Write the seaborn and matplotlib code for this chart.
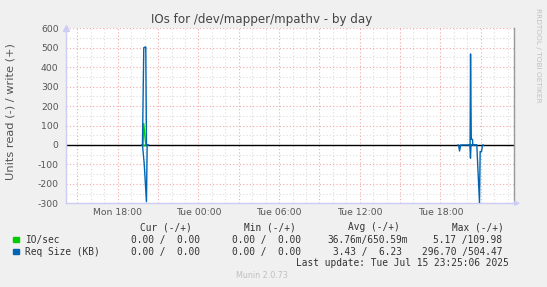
import numpy as np
import pandas as pd
import matplotlib
matplotlib.use("Agg")
import matplotlib.pyplot as plt
from matplotlib.ticker import MultipleLocator, FuncFormatter
import seaborn as sns

# ---------------- data (hours since Mon 18:00) ----------------
x_start, x_end = -3.89, 29.5
tick_hours = [0, 6, 12, 18, 24]
tick_labels = ["Mon 18:00", "Tue 00:00", "Tue 06:00", "Tue 12:00", "Tue 18:00"]

# IO/sec write (+) and read (-)
io_write_t = [1.80, 1.874, 1.933, 2.007, 2.082, 2.15, 26.15, 26.20, 26.245, 26.28, 26.35]
io_write_v = [0.0, 0.0, 109.98, 51.0, 0.0, 0.0, 0.0, 0.0, 5.0, 0.0, 0.0]
io_read_t = [1.85, 1.95, 2.05]
io_read_v = [0.0, -5.17, 0.0]

# Req Size (KB) write (+)
rq_write_t = [1.80, 1.836, 1.933, 2.082, 2.134, 2.30, 26.10, 26.21, 26.245, 26.30, 26.39, 26.41, 26.70]
rq_write_v = [0.0, 0.0, 500.0, 504.47, 0.0, 0.0, 0.0, 0.0, 468.0, 29.0, 29.0, 0.0, 0.0]
# Req Size (KB) read (-)
rq_read_t = [1.80, 1.836, 1.963, 2.134, 2.186, 2.245, 25.30, 25.35, 25.43, 25.51, 25.56,
             26.10, 26.19, 26.24, 26.28, 26.71, 26.91, 26.96, 27.06, 27.14, 27.20]
rq_read_v = [0.0, 0.0, -94.0, -291.0, 0.0, 0.0, 0.0, 0.0, -31.0, 0.0, 0.0,
             0.0, 0.0, -68.0, 0.0, 0.0, -296.70, -34.0, -34.0, 0.0, 0.0]

series_names = ["IO/sec", "Req Size (KB)"]
series_colors = ["#00CC00", "#0066B3"]
header = ["Cur (-/+)", "Min (-/+)", "Avg (-/+)", "Max (-/+)"]
row_io = ["0.00 /  0.00", "0.00 /  0.00", "36.76m/650.59m", "5.17 /109.98"]
row_rq = ["0.00 /  0.00", "0.00 /  0.00", "3.43 /  6.23", "296.70 /504.47"]

# ---------------- figure ----------------
W, H = 547, 287
sns.set_style("white")
plt.rcParams["font.family"] = ["DejaVu Sans"]
fig = plt.figure(figsize=(W / 100, H / 100), dpi=100, facecolor="#F0F0F0")

def fx(x):
    return x / W

def fy(y):
    return 1 - y / H

L, R, T, B = 65.5, 514.3, 28.3, 203.3
ax = fig.add_axes([fx(L), fy(B), fx(R) - fx(L), fy(T) - fy(B)])
ax.set_facecolor("white")
ax.set_xlim(x_start, x_end)
ax.set_ylim(-300, 600)

ax.xaxis.set_major_locator(MultipleLocator(3))
ax.xaxis.set_minor_locator(MultipleLocator(1))
ax.yaxis.set_major_locator(MultipleLocator(100))
ax.yaxis.set_minor_locator(MultipleLocator(50))

lab = dict(zip(tick_hours, tick_labels))
ax.xaxis.set_major_formatter(FuncFormatter(lambda v, p: lab.get(int(round(v)), "") if abs(v - round(v)) < 1e-6 else ""))
ax.yaxis.set_major_formatter(FuncFormatter(lambda v, p: f"{int(v)}"))

ax.grid(which="minor", color="#DDDDDD", linestyle=(0, (1, 2)), linewidth=0.8)
ax.grid(which="major", color="#F2A8A8", linestyle=(0, (1, 2)), linewidth=0.8)
ax.set_axisbelow(True)

ax.tick_params(which="major", axis="x", length=2, color="#F2A8A8", labelsize=6.7, labelcolor="#555555", pad=1.5)
ax.tick_params(which="major", axis="y", length=2, color="#F2A8A8", labelsize=6.7, labelcolor="#555555", pad=3)
ax.tick_params(which="minor", length=0)

for s in ["top"]:
    ax.spines[s].set_visible(False)
ax.spines["right"].set_color("#999999")
ax.spines["right"].set_linewidth(1.0)
ax.spines["left"].set_color("#CCCCF5")
ax.spines["bottom"].set_color("#CCCCF5")
ax.spines["left"].set_linewidth(1.0)
ax.spines["bottom"].set_linewidth(1.0)

# zero line
ax.axhline(0, color="black", lw=1.0, zorder=2)

# data lines
for t, v, c in [(io_write_t, io_write_v, series_colors[0]),
                (io_read_t, io_read_v, series_colors[0]),
                (rq_write_t, rq_write_v, series_colors[1]),
                (rq_read_t, rq_read_v, series_colors[1])]:
    df = pd.DataFrame({"t": t, "v": v})
    grp = (df["t"].diff() > 5).cumsum()
    for _, d in df.groupby(grp):
        sns.lineplot(data=d, x="t", y="v", ax=ax, color=c, lw=1.0,
                     estimator=None, sort=False, zorder=3)

ax.set_xlabel("")
ax.set_ylabel("")

# axis arrows
ax.plot([0], [1.0], marker="^", color="#CCCCF5", markersize=5, transform=ax.transAxes, clip_on=False)
ax.annotate("", xy=(fx(523), fy(B)), xytext=(fx(R), fy(B)), xycoords="figure fraction",
            arrowprops=dict(arrowstyle="-|>", color="#CCCCF5", lw=1.0, mutation_scale=7))

# title & labels
fig.text(fx(261.5), fy(19.5), "IOs for /dev/mapper/mpathv - by day", ha="center", va="center",
         fontsize=8.6, color="#444444")
fig.text(fx(10.5), fy(112), "Units read (-) / write (+)", rotation=90, ha="center", va="center",
         fontsize=8.2, color="#555555")
fig.text(fx(538), fy(55), "RRDTOOL / TOBI OETIKER", rotation=270, ha="center", va="center",
         fontsize=5.3, color="#C0C0C0")

# legend
mono = dict(family="DejaVu Sans Mono", fontsize=6.85, color="#333333", va="center", ha="left")
hx = [140.3, 244.3, 347.7, 451.7]
for x, s in zip(hx, header):
    fig.text(fx(x), fy(227.3), s, **mono)
io_x = [131, 232.3, 327.3, 433.3]
rq_x = [131, 232.3, 332.7, 422.3]
for yrow, nm, col, vals, xs in [(239.7, series_names[0], series_colors[0], row_io, io_x),
                                (251.7, series_names[1], series_colors[1], row_rq, rq_x)]:
    fig.patches.append(plt.Rectangle((fx(13.3), fy(yrow + 2.6)), fx(5.2), 5.2 / H,
                                     transform=fig.transFigure, color=col, figure=fig))
    fig.text(fx(25), fy(yrow), nm, **mono)
    for x, s in zip(xs, vals):
        fig.text(fx(x), fy(yrow), s, **mono)
fig.text(fx(509), fy(263.3), "Last update: Tue Jul 15 23:25:06 2025",
         **{**mono, "ha": "right"})
fig.text(fx(261.5), fy(276), "Munin 2.0.73", ha="center", va="center", fontsize=5.8, color="#C0C0C0")

fig.savefig("out.png", dpi=100, facecolor=fig.get_facecolor())
